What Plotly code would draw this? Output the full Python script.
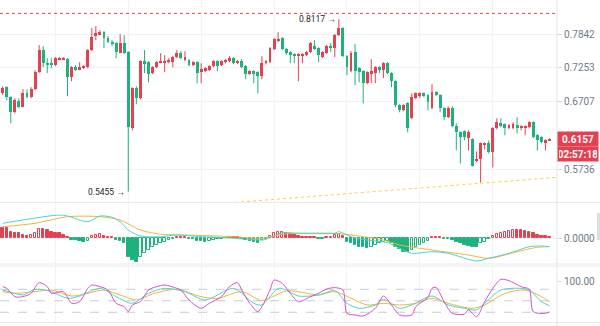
import math
import plotly.graph_objects as go

# ---- OHLC candles (oldest -> newest) ----
opens = [0.6842, 0.6938, 0.6779, 0.6549, 0.6722, 0.6630, 0.6847, 0.6779, 0.6906, 0.7183,
         0.7557, 0.7338, 0.7333, 0.7300, 0.7397, 0.7402, 0.7402, 0.7101, 0.7266, 0.7233,
         0.7249, 0.7266, 0.7557, 0.7824, 0.7842, 0.7878, 0.7770, 0.7699, 0.7681, 0.7505,
         0.7681, 0.7523, 0.6311, 0.6922, 0.6764, 0.7367, 0.7350, 0.7167, 0.7266, 0.7350,
         0.7350, 0.7350, 0.7350, 0.7436, 0.7505, 0.7384, 0.7384, 0.7300, 0.7350, 0.7183,
         0.7200, 0.7216, 0.7283, 0.7367, 0.7300, 0.7350, 0.7367, 0.7419, 0.7333, 0.7367,
         0.7283, 0.7150, 0.7200, 0.7183, 0.7117, 0.7333, 0.7350, 0.7575, 0.7716, 0.7770,
         0.7575, 0.7523, 0.7488, 0.7471, 0.7471, 0.7471, 0.7523, 0.7628, 0.7593, 0.7436,
         0.7505, 0.7628, 0.7593, 0.7824, 0.7952, 0.7453, 0.7200, 0.7523, 0.7249, 0.7200,
         0.7003, 0.7167, 0.7167, 0.7266, 0.7216, 0.7333, 0.7167, 0.7035, 0.6656, 0.6579,
         0.6686, 0.6459, 0.6764, 0.6811, 0.6842, 0.6811, 0.6610, 0.6858, 0.6811, 0.6610,
         0.6474, 0.6610, 0.6341, 0.6253, 0.6268, 0.6167, 0.6153, 0.5847, 0.5874, 0.6068,
         0.6096, 0.5970, 0.6311, 0.6385, 0.6370, 0.6311, 0.6311, 0.6355, 0.6326, 0.6326,
         0.6326, 0.6399, 0.6210, 0.6181, 0.6110, 0.6140]
highs = [0.6954, 0.6954, 0.6795, 0.6764, 0.6764, 0.6906, 0.6906, 0.6938, 0.7216, 0.7646,
         0.7628, 0.7419, 0.7419, 0.7436, 0.7436, 0.7436, 0.7419, 0.7283, 0.7300, 0.7350,
         0.7300, 0.7575, 0.7952, 0.7989, 0.7915, 0.7896, 0.7806, 0.7734, 0.7699, 0.7842,
         0.7824, 0.7540, 0.6938, 0.6954, 0.7384, 0.7557, 0.7367, 0.7283, 0.7367, 0.7505,
         0.7471, 0.7419, 0.7453, 0.7557, 0.7540, 0.7540, 0.7402, 0.7367, 0.7367, 0.7333,
         0.7266, 0.7300, 0.7384, 0.7384, 0.7384, 0.7402, 0.7453, 0.7436, 0.7384, 0.7402,
         0.7300, 0.7216, 0.7216, 0.7200, 0.7453, 0.7384, 0.7610, 0.7770, 0.7878, 0.7788,
         0.7593, 0.7540, 0.7505, 0.7505, 0.7505, 0.7540, 0.7699, 0.7734, 0.7610, 0.7540,
         0.7646, 0.7681, 0.7842, 0.8117, 0.7970, 0.7471, 0.7540, 0.7663, 0.7266, 0.7216,
         0.7200, 0.7402, 0.7283, 0.7283, 0.7350, 0.7350, 0.7183, 0.7051, 0.6671, 0.6671,
         0.6702, 0.6842, 0.6858, 0.6858, 0.6858, 0.6826, 0.6986, 0.6874, 0.6826, 0.6625,
         0.6640, 0.6640, 0.6385, 0.6268, 0.6282, 0.6282, 0.6167, 0.5984, 0.6110, 0.6110,
         0.6138, 0.6326, 0.6459, 0.6459, 0.6385, 0.6370, 0.6399, 0.6474, 0.6355, 0.6355,
         0.6414, 0.6414, 0.6224, 0.6196, 0.6153, 0.6167]
lows = [0.6811, 0.6733, 0.6385, 0.6534, 0.6610, 0.6625, 0.6764, 0.6764, 0.6890, 0.7167,
        0.7266, 0.7167, 0.7249, 0.7283, 0.7384, 0.7384, 0.6795, 0.7035, 0.7200, 0.7216,
        0.7233, 0.7249, 0.7540, 0.7734, 0.7824, 0.7593, 0.7681, 0.7628, 0.7419, 0.7505,
        0.7488, 0.5455, 0.6282, 0.6671, 0.6748, 0.7167, 0.7019, 0.7150, 0.7249, 0.7333,
        0.7183, 0.7333, 0.7266, 0.7419, 0.7402, 0.7367, 0.7283, 0.7283, 0.7003, 0.7003,
        0.7183, 0.7200, 0.7266, 0.7200, 0.7283, 0.7333, 0.7350, 0.7316, 0.7316, 0.7249,
        0.7068, 0.7134, 0.7003, 0.6842, 0.7068, 0.7316, 0.7333, 0.7557, 0.7699, 0.7557,
        0.7471, 0.7333, 0.7333, 0.7035, 0.7333, 0.7453, 0.7505, 0.7557, 0.7350, 0.7419,
        0.7488, 0.7523, 0.7436, 0.7806, 0.7436, 0.7134, 0.7183, 0.6970, 0.7019, 0.6686,
        0.6986, 0.7003, 0.7003, 0.7167, 0.7084, 0.7150, 0.6938, 0.6625, 0.6549, 0.6564,
        0.6253, 0.6444, 0.6748, 0.6764, 0.6779, 0.6579, 0.6594, 0.6795, 0.6549, 0.6429,
        0.6459, 0.6326, 0.5998, 0.5820, 0.6138, 0.5998, 0.5780, 0.5834, 0.5570, 0.6012,
        0.5956, 0.5767, 0.6297, 0.6326, 0.6210, 0.6297, 0.6297, 0.6239, 0.6282, 0.6210,
        0.6311, 0.6167, 0.5998, 0.6096, 0.5998, 0.6138]
closes = [0.6922, 0.6779, 0.6549, 0.6733, 0.6630, 0.6847, 0.6784, 0.6906, 0.7183, 0.7557,
          0.7333, 0.7316, 0.7316, 0.7419, 0.7414, 0.7419, 0.7101, 0.7266, 0.7216, 0.7266,
          0.7283, 0.7557, 0.7788, 0.7860, 0.7878, 0.7770, 0.7699, 0.7681, 0.7523, 0.7681,
          0.7505, 0.6326, 0.6922, 0.6764, 0.7367, 0.7316, 0.7150, 0.7266, 0.7350, 0.7367,
          0.7367, 0.7384, 0.7436, 0.7505, 0.7419, 0.7436, 0.7300, 0.7350, 0.7167, 0.7233,
          0.7249, 0.7283, 0.7367, 0.7283, 0.7367, 0.7384, 0.7419, 0.7333, 0.7367, 0.7266,
          0.7150, 0.7200, 0.7167, 0.7117, 0.7333, 0.7367, 0.7593, 0.7752, 0.7752, 0.7575,
          0.7505, 0.7471, 0.7471, 0.7488, 0.7488, 0.7523, 0.7681, 0.7575, 0.7471, 0.7523,
          0.7628, 0.7593, 0.7824, 0.7952, 0.7453, 0.7266, 0.7505, 0.7200, 0.7183, 0.7003,
          0.7183, 0.7200, 0.7266, 0.7216, 0.7333, 0.7167, 0.7035, 0.6656, 0.6579, 0.6656,
          0.6311, 0.6779, 0.6842, 0.6842, 0.6795, 0.6702, 0.6858, 0.6811, 0.6610, 0.6474,
          0.6610, 0.6341, 0.6253, 0.6181, 0.6181, 0.6253, 0.5793, 0.5874, 0.6096, 0.6096,
          0.5970, 0.6311, 0.6399, 0.6341, 0.6311, 0.6355, 0.6370, 0.6326, 0.6341, 0.6341,
          0.6399, 0.6181, 0.6138, 0.6110, 0.6138, 0.6157]

# ---- MACD histogram, one value per candle ----
macd_hist = [0.0097, 0.0097, 0.0063, 0.0053, 0.0047, 0.0030, 0.0020, 0.0030, 0.0053, 0.0087,
             0.0087, 0.0080, 0.0063, 0.0053, 0.0047, 0.0030, 0.0010, -0.0020, -0.0020, -0.0030,
             -0.0040, -0.0027, 0.0020, 0.0030, 0.0037, 0.0020, 0.0013, 0.0007, -0.0020, -0.0030,
             -0.0047, -0.0187, -0.0220, -0.0237, -0.0187, -0.0153, -0.0120, -0.0093, -0.0070, -0.0053,
             -0.0037, -0.0020, -0.0010, 0.0010, 0.0010, 0.0010, -0.0007, -0.0013, -0.0027, -0.0033,
             -0.0037, -0.0027, -0.0020, -0.0013, -0.0007, -0.0003, 0.0010, 0.0010, 0.0010, -0.0013,
             -0.0020, -0.0030, -0.0040, -0.0047, -0.0020, -0.0007, 0.0020, 0.0047, 0.0057, 0.0063,
             0.0047, 0.0037, 0.0027, 0.0020, 0.0013, 0.0010, 0.0010, 0.0010, -0.0013, -0.0010,
             0.0010, 0.0013, 0.0027, 0.0040, 0.0020, -0.0037, -0.0053, -0.0070, -0.0087, -0.0093,
             -0.0103, -0.0093, -0.0070, -0.0053, -0.0037, -0.0027, -0.0053, -0.0087, -0.0113, -0.0137,
             -0.0137, -0.0120, -0.0093, -0.0070, -0.0047, -0.0027, 0.0010, 0.0010, 0.0010, -0.0013,
             -0.0010, -0.0020, -0.0037, -0.0053, -0.0070, -0.0080, -0.0087, -0.0087, -0.0053, -0.0037,
             -0.0013, 0.0020, 0.0040, 0.0053, 0.0063, 0.0073, 0.0080, 0.0080, 0.0080, 0.0073,
             0.0063, 0.0047, 0.0033, 0.0023, 0.0017, 0.0013]

# ---- MACD lines (DIF / DEA) ----
dif_idx = [0, 14, 16, 21, 24, 27, 29, 31, 34, 39, 43, 49, 55, 64, 65, 69, 73, 82, 83, 86,
           90, 95, 98, 101, 106, 110, 117, 120, 125, 130, 133, 135]
dif_val = [0.0147, 0.023, 0.022, 0.0163, 0.022, 0.0207, 0.0163, 0.008, 0.002, 0.0013,
           0.003, 0.0013, 0.0003, -0.002, -0.0013, 0.0053, 0.0047, 0.0047, 0.0063, 0.0013,
           -0.002, -0.0047, -0.0103, -0.0153, -0.0137, -0.0153, -0.023, -0.0203, -0.0153, -0.0087,
           -0.008, -0.0087]
dea_idx = [0, 8, 16, 24, 29, 34, 39, 45, 57, 64, 69, 73, 82, 86, 94, 98, 106, 115, 120, 127,
           132, 135]
dea_val = [0.0113, 0.0147, 0.0213, 0.0213, 0.018, 0.008, 0.0037, 0.003, 0.0013, -0.0003,
           0.0037, 0.0047, 0.0047, 0.003, -0.002, -0.007, -0.012, -0.017, -0.0203, -0.0137,
           -0.0093, -0.0087]

# ---- KDJ lines ----
k_idx = [0, 3, 5, 8, 12, 16, 19, 24, 28, 32, 36, 40, 45, 50, 57, 62, 64, 68, 70, 73,
         78, 82, 85, 88, 92, 94, 98, 101, 106, 110, 114, 117, 119, 123, 128, 130, 133, 135]
k_val = [78.2, 69.5, 65.1, 80, 73.8, 56.4, 62.5, 82.5, 60.8, 43.4, 69.5, 82.5, 73.8, 52.1,
         82.5, 43.4, 39, 82.5, 78.2, 62.5, 65.1, 76.4, 43.4, 30.3, 39, 53.8, 30.3, 39, 62.5,
         39, 30.3, 26, 43.4, 78.2, 82.5, 78.2, 47.7, 37.3]
d_idx = [0, 3, 8, 12, 17, 21, 25, 29, 33, 37, 43, 49, 53, 59, 64, 67, 70, 73, 78, 82,
         86, 90, 94, 98, 102, 106, 110, 116, 119, 124, 129, 133, 135]
d_val = [73.8, 69.5, 73.8, 78.2, 62.5, 69.5, 78.2, 65.1, 52.1, 67.8, 80, 60.8, 56.4, 73.8,
         50.3, 62.5, 75.6, 73.8, 65.1, 73.8, 56.4, 39, 43.4, 39, 43.4, 56.4, 43.4, 30.3, 39,
         69.5, 78.2, 60.8, 47.7]
j_idx = [0, 1, 3, 5, 7, 9, 11, 12, 15, 17, 19, 21, 22, 24, 26, 28, 30, 31, 32, 34, 36, 38,
         40, 43, 44, 46, 49, 51, 54, 56, 58, 59, 61, 63, 64, 66, 67, 69, 71, 73, 76, 78, 80,
         82, 84, 85, 87, 89, 92, 94, 96, 98, 101, 102, 105, 106, 107, 109, 111, 114, 115, 117,
         119, 121, 123, 125, 128, 130, 131, 134, 135]
j_val = [86.9, 82.5, 60.8, 60.8, 69.5, 97.3, 86.9, 69.5, 73.8, 43.4, 47.7, 82.5, 91.2, 86.9,
         78.2, 43.4, 34.7, 21.6, 39, 47.7, 78.2, 86.9, 91.2, 82.5, 78.2, 52.1, 30.3, 43.4, 60.8,
         86.9, 97.3, 78.2, 43.4, 21.6, 34.7, 78.2, 104.3, 95.6, 69.5, 47.7, 60.8, 69.5, 80.8,
         84.3, 78.2, 17.3, 12.9, 10.3, 30.3, 62.5, 39, 12.9, 12.9, 34.7, 59.1, 82.5, 85.1, 47.7,
         17.3, 15.5, 26, 8.6, 47.7, 82.5, 106, 102.5, 86.9, 80, 21.6, 17.3, 20.8]
kdj_levels = [80, 50, 20]

# ---- price axis ticks, markers and drawn lines ----
price_ticks = [0.7842, 0.7253, 0.6707, 0.5736]
high_mark = (83, 0.8117)
low_mark = (31, 0.5455)
last_price = 0.6157
countdown = "02:57:18"
alert_level = 0.8226
trend_idx = [50, 137]
trend_val = [0.5292, 0.5639]

UP = "#e5404f"
DOWN = "#1db27c"
DIF_C = "#4fd3cd"
DEA_C = "#f3b43a"
J_C = "#d64fcf"
GRID = "#f2f3f5"
LABEL = "#707a8a"
FONT = "Roboto"

n = len(opens)
xs = list(range(n))
X_RANGE = [-0.667, 136.86]
PLOT_R = 557 / 600

fig = go.Figure()

# candle bodies
up_flags = [c >= o for o, c in zip(opens, closes)]
colors = [UP if u else DOWN for u in up_flags]
fig.add_trace(go.Bar(
    x=xs, base=[min(o, c) for o, c in zip(opens, closes)],
    y=[max(abs(c - o), 0.0012) for o, c in zip(opens, closes)],
    width=0.72, marker=dict(color=colors, line=dict(width=0)),
    xaxis="x", yaxis="y", hoverinfo="skip", showlegend=False))

# wicks
for flag, col in ((True, UP), (False, DOWN)):
    wx, wy = [], []
    for i in xs:
        if up_flags[i] == flag:
            wx += [i, i, None]
            wy += [lows[i], highs[i], None]
    fig.add_trace(go.Scatter(x=wx, y=wy, mode="lines", line=dict(color=col, width=1),
                             xaxis="x", yaxis="y", hoverinfo="skip", showlegend=False))

# alert level and trend line
fig.add_trace(go.Scatter(x=[X_RANGE[0], X_RANGE[1]], y=[alert_level, alert_level], mode="lines",
                         line=dict(color="#e5404f", width=1, dash="dot"),
                         xaxis="x", yaxis="y", hoverinfo="skip", showlegend=False))
fig.add_trace(go.Scatter(x=trend_idx, y=trend_val, mode="lines",
                         line=dict(color="#f5d442", width=1, dash="dot"),
                         xaxis="x", yaxis="y", hoverinfo="skip", showlegend=False))

# MACD histogram: red above zero, green below; hollow while rising
h_fill, h_line = [], []
for i, v in enumerate(macd_hist):
    col = UP if v >= 0 else DOWN
    rising = i > 0 and v > macd_hist[i - 1]
    h_fill.append("#ffffff" if rising else col)
    h_line.append(col)
fig.add_trace(go.Bar(x=xs, y=macd_hist, width=0.62,
                     marker=dict(color=h_fill, line=dict(color=h_line, width=1)),
                     xaxis="x2", yaxis="y2", hoverinfo="skip", showlegend=False))
fig.add_trace(go.Scatter(x=dea_idx, y=dea_val, mode="lines",
                         line=dict(color=DEA_C, width=1, shape="spline", smoothing=0.8),
                         xaxis="x2", yaxis="y2", hoverinfo="skip", showlegend=False))
fig.add_trace(go.Scatter(x=dif_idx, y=dif_val, mode="lines",
                         line=dict(color=DIF_C, width=1, shape="spline", smoothing=0.8),
                         xaxis="x2", yaxis="y2", hoverinfo="skip", showlegend=False))

# KDJ
for lvl in kdj_levels:
    fig.add_trace(go.Scatter(x=X_RANGE, y=[lvl, lvl], mode="lines",
                             line=dict(color="#c9ccd1", width=1, dash="dash"),
                             xaxis="x3", yaxis="y3", hoverinfo="skip", showlegend=False))
for ix, vals, col in ((d_idx, d_val, DEA_C), (k_idx, k_val, DIF_C), (j_idx, j_val, J_C)):
    fig.add_trace(go.Scatter(x=ix, y=vals, mode="lines",
                             line=dict(color=col, width=1, shape="spline", smoothing=0.8),
                             xaxis="x3", yaxis="y3", hoverinfo="skip", showlegend=False))

grid_x = [13, 31, 49, 67, 85, 103, 121]
xcommon = dict(range=X_RANGE, domain=[0, PLOT_R], showticklabels=False, ticks="",
               tickvals=grid_x, showgrid=True, gridcolor=GRID, zeroline=False, showline=False,
               fixedrange=True)
ycommon = dict(side="right", ticks="outside", ticklen=4, tickcolor="#d5d8dc",
               tickfont=dict(family=FONT, size=10, color=LABEL), showline=False,
               zeroline=False, showgrid=True, gridcolor=GRID, fixedrange=True)

fig.update_layout(
    width=600, height=326, margin=dict(l=0, r=0, t=0, b=0),
    paper_bgcolor="#ffffff", plot_bgcolor="#ffffff", bargap=0, barmode="overlay",
    font=dict(family=FONT),
    xaxis=dict(**xcommon, anchor="y"),
    xaxis2=dict(**xcommon, anchor="y2", matches="x"),
    xaxis3=dict(**xcommon, anchor="y3", matches="x"),
    yaxis=dict(**ycommon, type="log", domain=[0.3804, 1.0], anchor="x",
               range=[math.log10(0.5326), math.log10(0.8483)],
               tickvals=price_ticks, ticktext=[f"{v:.4f}" for v in price_ticks]),
    yaxis2=dict(**ycommon, domain=[0.1902, 0.3773], anchor="x2", range=[-0.026, 0.035],
                tickvals=[0], ticktext=["0.0000"]),
    yaxis3=dict(**ycommon, domain=[0.0123, 0.1871], anchor="x3", range=[-5.4, 143.5],
                tickvals=[100], ticktext=["100.00"]),
)
fig.update_yaxes(showgrid=False, selector=dict(anchor="x3"))

# pane separators and right axis border
for yp in (1 - 202.5 / 326, 1 - 264 / 326, 1 - 266 / 326, 1 - 322.5 / 326):
    fig.add_shape(type="line", xref="paper", yref="paper", x0=0, x1=1, y0=yp, y1=yp,
                  line=dict(color="#e9eaec", width=1))
fig.add_shape(type="line", xref="paper", yref="paper", x0=PLOT_R, x1=PLOT_R, y0=0, y1=1,
              line=dict(color="#e3e5e8", width=1))
fig.add_shape(type="rect", xref="paper", yref="paper", x0=597 / 600, x1=1,
              y0=1 - 240 / 326, y1=1 - 213 / 326, line=dict(width=0), fillcolor="#dcdee1")

# high / low markers
for (ci, pv) in (high_mark, low_mark):
    fig.add_annotation(x=ci, y=math.log10(pv), xref="x", yref="y",
                       text=f"{pv:.4f} \u2192", showarrow=False, xanchor="right",
                       yanchor="middle", xshift=-1,
                       font=dict(family=FONT, size=8.5, color="#1e2329"))

# last price and countdown tags
fig.add_annotation(x=PLOT_R, y=math.log10(last_price), xref="paper", yref="y",
                   text=f"<b>{last_price:.4f}</b>", showarrow=False, xanchor="left",
                   yanchor="middle", width=38, height=12, bgcolor=UP, borderpad=1,
                   font=dict(family=FONT, size=10, color="#ffffff"))
fig.add_annotation(x=PLOT_R, y=math.log10(last_price), xref="paper", yref="y",
                   text=f"<b>{countdown}</b>", showarrow=False, xanchor="left",
                   yanchor="middle", yshift=-15, width=38, height=12, bgcolor=UP, borderpad=1,
                   font=dict(family=FONT, size=10, color="#ffffff"))

fig.write_html("out.html", include_plotlyjs=True, config={"displayModeBar": False})
